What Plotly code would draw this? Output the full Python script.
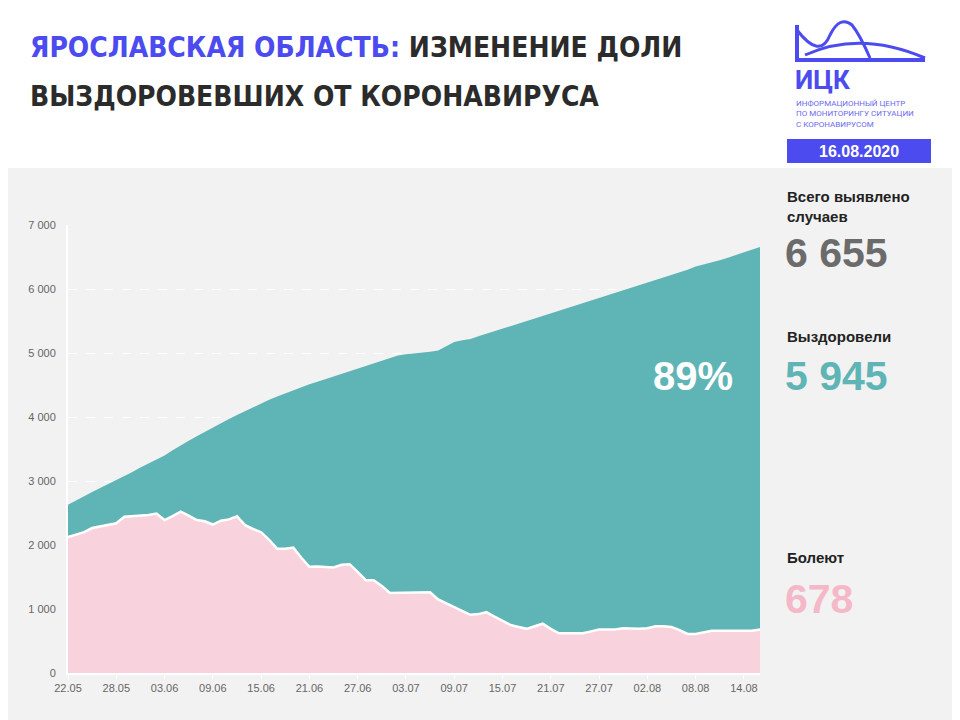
import plotly.graph_objects as go
import pandas as pd

dates = pd.date_range("2020-05-22", "2020-08-16").strftime("%Y-%m-%d").tolist()
active = [2125,2160,2200,2265,2290,2310,2340,2440,2450,2455,2470,2490,2390,2450,2520,2460,2390,2370,2320,2380,
          2400,2450,2310,2250,2200,2080,1940,1940,1960,1800,1660,1665,1660,1650,1690,1700,1580,1450,1450,1360,
          1250,1250,1250,1255,1255,1260,1150,1090,1030,980,910,920,950,880,810,750,720,690,730,770,
          690,620,620,620,620,650,680,680,680,700,690,690,700,730,730,720,670,610,610,640,
          660,660,660,660,660,660,678]
total = [2630,2700,2770,2830,2890,2950,3010,3080,3140,3210,3270,3340,3400,3480,3560,3630,3700,3770,3840,3900,
         3970,4030,4090,4150,4220,4270,4320,4370,4420,4470,4510,4550,4590,4630,4670,4710,4760,4800,4840,4880,
         4920,4960,4980,4990,5000,5020,5040,5100,5170,5200,5220,5260,5300,5340,5380,5420,5460,5500,5540,5580,
         5620,5660,5700,5740,5780,5810,5850,5890,5930,5970,6010,6050,6100,6140,6180,6220,6260,6300,6350,6380,
         6410,6450,6490,6530,6570,6610,6655]
y_ticks = [0,1000,2000,3000,4000,5000,6000,7000]
y_tick_labels = ["0","1 000","2 000","3 000","4 000","5 000","6 000","7 000"]
x_ticks = dates[::6]

O = 8  # page body offset
L, R, T, B = 68 - O, 760 - O, 225 - O, 673 - O
def px(x): return (x - O - L) / (R - L)
def py(y): return (B - (y - O)) / (B - T)

TEAL = "#5fb4b5"; PINK = "#f8d3de"; BLUE = "#4b4bf0"
TF = "DejaVu Sans Condensed, Liberation Sans"

fig = go.Figure()
fig.add_trace(go.Scatter(x=dates, y=active, mode="lines", line=dict(color="white", width=2.5),
                         fill="tozeroy", fillcolor=PINK, hoverinfo="skip"))
fig.add_trace(go.Scatter(x=dates, y=total, mode="lines", line=dict(color=TEAL, width=0),
                         fill="tonexty", fillcolor=TEAL, hoverinfo="skip"))

shapes = [
    dict(type="rect", xref="paper", yref="paper", x0=px(-20), x1=px(980), y0=py(740), y1=py(168),
         fillcolor="#f2f2f2", line=dict(width=0), layer="below"),
    dict(type="rect", xref="paper", yref="paper", x0=px(787), x1=px(931), y0=py(163), y1=py(139),
         fillcolor=BLUE, line=dict(width=0)),
    dict(type="path", xref="paper", yref="paper",
         path=f"M {px(797)},{py(25)} L {px(797)},{py(60)} L {px(925)},{py(60)}",
         line=dict(color=BLUE, width=4)),
    dict(type="path", xref="paper", yref="paper",
         path=f"M {px(797)},{py(30)} Q {px(820)},{py(60)} {px(830)},{py(35)} Q {px(840)},{py(15)} {px(852)},{py(25)} Q {px(860)},{py(35)} {px(870)},{py(58)}",
         line=dict(color=BLUE, width=3)),
    dict(type="path", xref="paper", yref="paper",
         path=f"M {px(805)},{py(55)} Q {px(860)},{py(30)} {px(925)},{py(58)}",
         line=dict(color=BLUE, width=3)),
]

ann = [
    dict(x=px(28), y=py(48), xanchor="left", yanchor="middle",
         text="<b><span style='color:%s'>ЯРОСЛАВСКАЯ ОБЛАСТЬ:</span> ИЗМЕНЕНИЕ ДОЛИ</b>" % BLUE,
         font=dict(size=28, color="#2b2b2b", family=TF)),
    dict(x=px(28), y=py(97), xanchor="left", yanchor="middle",
         text="<b>ВЫЗДОРОВЕВШИХ ОТ КОРОНАВИРУСА</b>",
         font=dict(size=28, color="#2b2b2b", family=TF)),
    dict(x=px(793), y=py(80), xanchor="left", yanchor="middle", text="<b>ИЦК</b>",
         font=dict(size=26, color=BLUE, family="Roboto")),
    dict(x=px(794), y=py(114), xanchor="left", yanchor="middle", align="left",
         text="ИНФОРМАЦИОННЫЙ ЦЕНТР<br>ПО МОНИТОРИНГУ СИТУАЦИИ<br>С КОРОНАВИРУСОМ",
         font=dict(size=8, color="#6b6bf0", family="Roboto")),
    dict(x=px(859), y=py(151), xanchor="center", yanchor="middle", text="<b>16.08.2020</b>",
         font=dict(size=16, color="white", family="Liberation Sans")),
    dict(x=px(785), y=py(206), xanchor="left", yanchor="middle", align="left",
         text="<b>Всего выявлено<br>случаев</b>", font=dict(size=15, color="#222", family="Liberation Sans")),
    dict(x=px(783), y=py(253), xanchor="left", yanchor="middle", text="<b>6 655</b>",
         font=dict(size=41, color="#6b6b6b", family="Liberation Sans")),
    dict(x=px(785), y=py(336), xanchor="left", yanchor="middle", text="<b>Выздоровели</b>",
         font=dict(size=15, color="#222", family="Liberation Sans")),
    dict(x=px(783), y=py(376), xanchor="left", yanchor="middle", text="<b>5 945</b>",
         font=dict(size=41, color=TEAL, family="Liberation Sans")),
    dict(x=px(785), y=py(557), xanchor="left", yanchor="middle", text="<b>Болеют</b>",
         font=dict(size=15, color="#222", family="Liberation Sans")),
    dict(x=px(783), y=py(599), xanchor="left", yanchor="middle", text="<b>678</b>",
         font=dict(size=41, color="#f5b8c8", family="Liberation Sans")),
    dict(x=px(693), y=py(376), xanchor="center", yanchor="middle", text="<b>89%</b>",
         font=dict(size=40, color="white", family="Liberation Sans")),
]
for a in ann:
    a.update(xref="paper", yref="paper", showarrow=False)

fig.update_layout(
    width=960, height=720, margin=dict(l=L, r=960 - R, t=T, b=720 - B),
    paper_bgcolor="white", plot_bgcolor="#f2f2f2", showlegend=False,
    shapes=shapes, annotations=ann,
    font=dict(family="Liberation Sans", color="#666", size=11),
)
fig.update_xaxes(range=[dates[0], dates[-1]], tickvals=x_ticks, tickformat="%d.%m",
                 showgrid=False, ticks="outside", ticklen=4, tickcolor="white",
                 showline=True, linecolor="white", linewidth=2, zeroline=False)
fig.update_yaxes(range=[0, 7000], tickvals=y_ticks, ticktext=y_tick_labels,
                 showgrid=True, gridcolor="white", griddash="dash", zeroline=False,
                 showline=True, linecolor="white", linewidth=2, ticklabelstandoff=8)
fig.write_html("out.html")
